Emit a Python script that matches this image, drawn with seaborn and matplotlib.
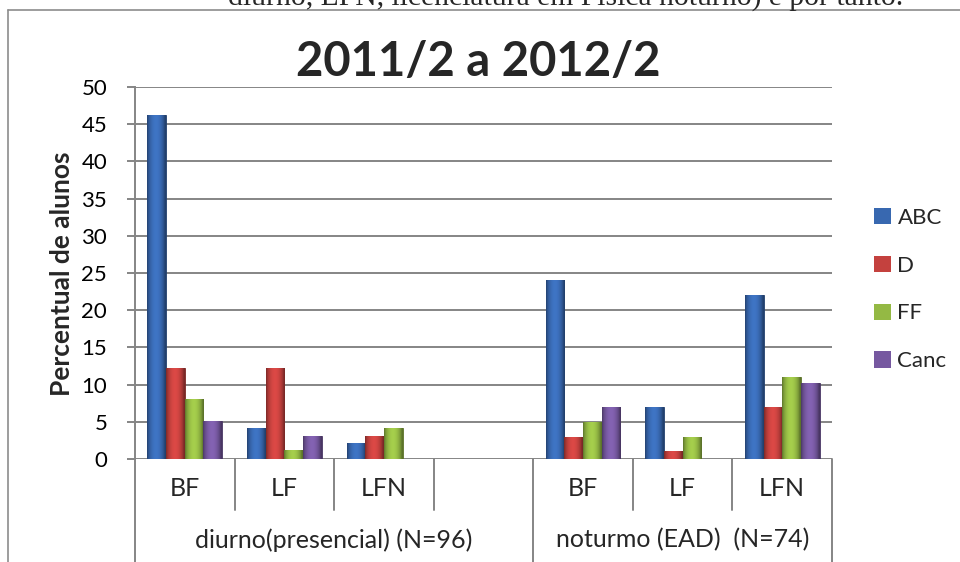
import numpy as np
import pandas as pd
import matplotlib
matplotlib.use("Agg")
import matplotlib.pyplot as plt
import matplotlib.transforms as mtransforms
import matplotlib.colors as mcolors
from matplotlib.lines import Line2D
import seaborn as sns

# ---------------- data ----------------
slot_keys = ["d_BF", "d_LF", "d_LFN", "d_gap", "n_BF", "n_LF", "n_LFN"]
categories = ["BF", "LF", "LFN", "", "BF", "LF", "LFN"]
groups = ["diurno(presencial) (N=96)", "noturmo (EAD)  (N=74)"]
group_sizes = [4, 3]
series = ["ABC", "D", "FF", "Canc"]
abc = [46.2, 4.2, 2.2, 0.0, 24.0, 7.0, 22.0]
d = [12.2, 12.2, 3.1, 0.0, 3.0, 1.1, 7.0]
ff = [8.1, 1.2, 4.2, 0.0, 5.0, 3.0, 11.0]
canc = [5.1, 3.1, 0.0, 0.0, 7.0, 0.0, 10.2]
title = "2011/2 a 2012/2"
ylabel = "Percentual de alunos"
top_text = "diurno, LFN, licenciatura em Física noturno) e por tanto."

colors = ["#3868b0", "#c4413e", "#94b944", "#7658a0"]

rows = []
for s, vals in zip(series, [abc, d, ff, canc]):
    for k, v in zip(slot_keys, vals):
        rows.append({"slot": k, "series": s, "value": v})
df = pd.DataFrame(rows)

# ---------------- figure ----------------
sns.set_theme(style="white")
plt.rcParams["font.family"] = ["Lato", "DejaVu Sans"]

W, H = 960, 562
fig = plt.figure(figsize=(W / 100, H / 100), dpi=100)

ax_left, ax_right, ax_top, ax_bottom = 135, 832, 87, 459
ax = fig.add_axes([ax_left / W, 1 - ax_bottom / H,
                   (ax_right - ax_left) / W, (ax_bottom - ax_top) / H])

sns.barplot(data=df, x="slot", y="value", hue="series", order=slot_keys,
            hue_order=series, palette=colors, width=0.75, errorbar=None,
            saturation=1, linewidth=0, ax=ax)

ax.set_xlim(-0.5, len(slot_keys) - 0.5)
ax.set_ylim(0, 50)

# bevel-like horizontal shading on the bars (decoration only)
t = np.linspace(0, 1, 48)
profile = 0.62 + 0.5 * np.sin(np.pi * np.clip(t * 1.05, 0, 1)) ** 0.7
for cont, col in zip(ax.containers, colors):
    base = np.array(mcolors.to_rgb(col))
    grad = np.clip(base[None, :] * profile[:, None], 0, 1)[None, :, :]
    for p in cont.patches:
        if p.get_height() > 0:
            x0, w, h = p.get_x(), p.get_width(), p.get_height()
            im = ax.imshow(grad, extent=[x0, x0 + w, 0, h], aspect="auto",
                           origin="lower", interpolation="bilinear",
                           zorder=p.get_zorder() + 0.1)
            im.set_clip_path(p)
            p.set_edgecolor(tuple(base * 0.6))
            p.set_linewidth(0.6)

ax.set_xlim(-0.5, len(slot_keys) - 0.5)
ax.set_ylim(0, 50)
ax.set_yticks(np.arange(0, 51, 5))
ax.set_xticks([])
ax.set_xlabel("")
ax.set_ylabel("")

grid_c = "#858585"
ax.yaxis.grid(True, color=grid_c, linewidth=1.4)
ax.set_axisbelow(True)
for sp in ["top", "right", "bottom"]:
    ax.spines[sp].set_visible(False)
ax.spines["left"].set_color(grid_c)
ax.spines["left"].set_linewidth(1.4)
ax.tick_params(axis="y", which="both", left=True, length=6, width=1.4,
               color=grid_c, pad=14, labelsize=16, labelcolor="black")

# legend
handles, labels = ax.get_legend_handles_labels()
ax.legend(handles, labels, loc="center left",
          bbox_to_anchor=(863 / W, 1 - 289.5 / H), bbox_transform=fig.transFigure,
          frameon=False, fontsize=16, handlelength=0.75, handleheight=0.75,
          handletextpad=0.3, labelspacing=1.25, borderpad=0)

# title and y label
fig.text(478 / W, 1 - 62 / H, title, ha="center", va="center",
         fontsize=34, fontweight="bold")
fig.text(62 / W, 1 - 274 / H, ylabel, ha="center", va="center",
         rotation=90, fontsize=19, fontweight="bold")

# multi-level category axis
bt = mtransforms.blended_transform_factory(ax.transData, fig.transFigure)
y0 = 1 - ax_bottom / H
y_mid = 1 - 510 / H
y_end = 0.0
for i, lab in enumerate(categories):
    if lab:
        ax.text(i, 1 - 489 / H, lab, transform=bt, ha="center", va="center",
                fontsize=18)
group_bounds = np.cumsum([0] + group_sizes) - 0.5
for gi, g in enumerate(groups):
    c = (group_bounds[gi] + group_bounds[gi + 1]) / 2
    ax.text(c, 1 - 540 / H, g, transform=bt, ha="center", va="center",
            fontsize=18)
for b in np.arange(-0.5, len(slot_keys), 1.0):
    yb = y_end if np.any(np.isclose(b, group_bounds)) else y_mid
    ax.add_line(Line2D([b, b], [y0, yb], transform=bt, color=grid_c,
                       linewidth=1.4, clip_on=False))

# outer frame of the embedded chart
fig.add_artist(Line2D([8 / W, 1], [1 - 10 / H, 1 - 10 / H], color="#8c8c8c",
                      linewidth=1.2))
fig.add_artist(Line2D([8 / W, 8 / W], [0, 1 - 10 / H], color="#8c8c8c",
                      linewidth=1.2))

# partially visible document text above the chart
txt = fig.text(228 / W, 1 - 5 / H, top_text, ha="left", va="baseline",
               fontsize=20, family=["Liberation Serif", "DejaVu Serif"])
fig.canvas.draw()
bb = txt.get_window_extent()
txt.set_fontsize(20 * 675 / bb.width)

fig.savefig("out.png", dpi=100)
